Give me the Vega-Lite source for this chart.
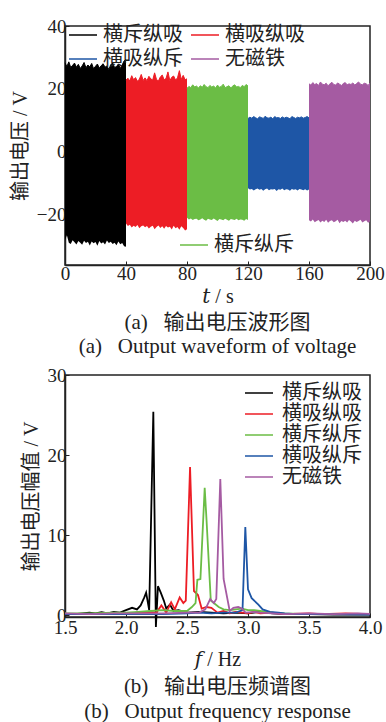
{
  "$schema": "https://vega.github.io/schema/vega-lite/v6.json",
  "padding": {"left": 9, "top": 16, "right": 8, "bottom": 4},
  "background": "white",
  "spacing": 7,
  "resolve": {"scale": {"color": "independent", "fill": "independent", "stroke": "independent"}, "legend": {"color": "independent", "stroke": "independent"}},
  "config": {
    "font": "Liberation Serif, Noto Sans CJK SC",
    "view": {"stroke": "#222", "strokeWidth": 1.5},
    "axis": {
      "grid": false,
      "labelFont": "Liberation Serif",
      "labelFontSize": 19,
      "labelColor": "#222",
      "labelFlush": false,
      "titleFont": "Liberation Serif, DejaVu Serif, Noto Sans CJK SC",
      "titleFontSize": 20,
      "titleFontWeight": "normal",
      "titleColor": "#222",
      "domainColor": "#222",
      "domainWidth": 1.5,
      "tickColor": "#222",
      "tickSize": -4,
      "labelPadding": 3
    },
    "legend": {
      "labelFont": "Noto Sans CJK SC",
      "labelFontSize": 20,
      "labelColor": "#222",
      "symbolType": "M-1.4,0H1.4",
      "symbolSize": 400,
      "symbolStrokeWidth": 1.5,
      "symbolFillColor": "transparent",
      "labelOffset": 9,
      "padding": 0,
      "rowPadding": 0,
      "columnPadding": 5
    },
    "title": {"font": "Liberation Serif, Noto Sans CJK SC", "fontSize": 21, "fontWeight": "normal", "color": "#222"}
  },
  "datasets": {
    "wave": [
      {"t":0,"h":28.3,"l":-28.2,"s":"横斥纵吸"},{"t":1.25,"h":27.1,"l":-26.5,"s":"横斥纵吸"},{"t":2.5,"h":28.6,"l":-28.9,"s":"横斥纵吸"},{"t":3.75,"h":26.8,"l":-29.3,"s":"横斥纵吸"},{"t":5,"h":27.5,"l":-28.1,"s":"横斥纵吸"},{"t":6.25,"h":28.2,"l":-28.8,"s":"横斥纵吸"},{"t":7.5,"h":26.9,"l":-29.5,"s":"横斥纵吸"},{"t":8.75,"h":27.8,"l":-28.4,"s":"横斥纵吸"},{"t":10,"h":26.5,"l":-28.9,"s":"横斥纵吸"},{"t":11.25,"h":27.3,"l":-29.6,"s":"横斥纵吸"},{"t":12.5,"h":28.4,"l":-28.3,"s":"横斥纵吸"},{"t":13.75,"h":26.7,"l":-29.0,"s":"横斥纵吸"},{"t":15,"h":27.6,"l":-28.6,"s":"横斥纵吸"},{"t":16.25,"h":27.0,"l":-29.8,"s":"横斥纵吸"},{"t":17.5,"h":28.1,"l":-28.5,"s":"横斥纵吸"},{"t":18.75,"h":26.4,"l":-29.1,"s":"横斥纵吸"},{"t":20,"h":27.2,"l":-28.7,"s":"横斥纵吸"},{"t":21.25,"h":27.9,"l":-29.9,"s":"横斥纵吸"},{"t":22.5,"h":26.6,"l":-28.4,"s":"横斥纵吸"},{"t":23.75,"h":27.4,"l":-29.2,"s":"横斥纵吸"},{"t":25,"h":28.0,"l":-28.8,"s":"横斥纵吸"},{"t":26.25,"h":26.9,"l":-29.5,"s":"横斥纵吸"},{"t":27.5,"h":27.3,"l":-28.2,"s":"横斥纵吸"},{"t":28.75,"h":26.2,"l":-29.0,"s":"横斥纵吸"},{"t":30,"h":27.7,"l":-28.6,"s":"横斥纵吸"},{"t":31.25,"h":28.3,"l":-29.3,"s":"横斥纵吸"},{"t":32.5,"h":26.8,"l":-28.9,"s":"横斥纵吸"},{"t":33.75,"h":27.1,"l":-29.7,"s":"横斥纵吸"},{"t":35,"h":27.9,"l":-28.5,"s":"横斥纵吸"},{"t":36.25,"h":26.5,"l":-29.4,"s":"横斥纵吸"},{"t":37.5,"h":27.6,"l":-29.0,"s":"横斥纵吸"},{"t":38.75,"h":28.9,"l":-30.0,"s":"横斥纵吸"},{"t":40,"h":29.4,"l":-30.2,"s":"横斥纵吸"},
      {"t":40,"h":22.8,"l":-22.8,"s":"横吸纵吸"},{"t":41.25,"h":23.4,"l":-23.6,"s":"横吸纵吸"},{"t":42.5,"h":22.5,"l":-23.2,"s":"横吸纵吸"},{"t":43.75,"h":24.2,"l":-24.1,"s":"横吸纵吸"},{"t":45,"h":22.9,"l":-23.5,"s":"横吸纵吸"},{"t":46.25,"h":23.6,"l":-23.9,"s":"横吸纵吸"},{"t":47.5,"h":22.4,"l":-23.3,"s":"横吸纵吸"},{"t":48.75,"h":23.1,"l":-24.3,"s":"横吸纵吸"},{"t":50,"h":24.6,"l":-23.7,"s":"横吸纵吸"},{"t":51.25,"h":22.7,"l":-23.4,"s":"横吸纵吸"},{"t":52.5,"h":23.5,"l":-24.0,"s":"横吸纵吸"},{"t":53.75,"h":22.6,"l":-23.6,"s":"横吸纵吸"},{"t":55,"h":24.0,"l":-24.4,"s":"横吸纵吸"},{"t":56.25,"h":23.2,"l":-23.8,"s":"横吸纵吸"},{"t":57.5,"h":22.8,"l":-23.5,"s":"横吸纵吸"},{"t":58.75,"h":25.1,"l":-24.6,"s":"横吸纵吸"},{"t":60,"h":23.0,"l":-23.9,"s":"横吸纵吸"},{"t":61.25,"h":22.5,"l":-23.4,"s":"横吸纵吸"},{"t":62.5,"h":23.8,"l":-24.2,"s":"横吸纵吸"},{"t":63.75,"h":24.4,"l":-23.7,"s":"横吸纵吸"},{"t":65,"h":22.9,"l":-24.5,"s":"横吸纵吸"},{"t":66.25,"h":23.3,"l":-23.6,"s":"横吸纵吸"},{"t":67.5,"h":25.4,"l":-24.1,"s":"横吸纵吸"},{"t":68.75,"h":22.6,"l":-23.8,"s":"横吸纵吸"},{"t":70,"h":23.7,"l":-24.7,"s":"横吸纵吸"},{"t":71.25,"h":24.1,"l":-23.5,"s":"横吸纵吸"},{"t":72.5,"h":22.8,"l":-24.3,"s":"横吸纵吸"},{"t":73.75,"h":23.5,"l":-23.9,"s":"横吸纵吸"},{"t":75,"h":25.8,"l":-24.8,"s":"横吸纵吸"},{"t":76.25,"h":23.0,"l":-23.7,"s":"横吸纵吸"},{"t":77.5,"h":24.3,"l":-24.2,"s":"横吸纵吸"},{"t":78.75,"h":22.9,"l":-25.0,"s":"横吸纵吸"},{"t":80,"h":23.2,"l":-24.6,"s":"横吸纵吸"},
      {"t":80,"h":20.2,"l":-21.0,"s":"横斥纵斥"},{"t":81.25,"h":20.8,"l":-21.5,"s":"横斥纵斥"},{"t":82.5,"h":20.4,"l":-21.2,"s":"横斥纵斥"},{"t":83.75,"h":21.3,"l":-21.7,"s":"横斥纵斥"},{"t":85,"h":20.6,"l":-21.4,"s":"横斥纵斥"},{"t":86.25,"h":20.9,"l":-21.3,"s":"横斥纵斥"},{"t":87.5,"h":20.3,"l":-21.8,"s":"横斥纵斥"},{"t":88.75,"h":21.0,"l":-21.5,"s":"横斥纵斥"},{"t":90,"h":20.5,"l":-21.1,"s":"横斥纵斥"},{"t":91.25,"h":21.4,"l":-21.6,"s":"横斥纵斥"},{"t":92.5,"h":20.7,"l":-21.9,"s":"横斥纵斥"},{"t":93.75,"h":20.4,"l":-21.3,"s":"横斥纵斥"},{"t":95,"h":21.1,"l":-21.5,"s":"横斥纵斥"},{"t":96.25,"h":20.6,"l":-21.7,"s":"横斥纵斥"},{"t":97.5,"h":20.9,"l":-21.2,"s":"横斥纵斥"},{"t":98.75,"h":20.3,"l":-21.6,"s":"横斥纵斥"},{"t":100,"h":21.2,"l":-22.0,"s":"横斥纵斥"},{"t":101.25,"h":20.5,"l":-21.4,"s":"横斥纵斥"},{"t":102.5,"h":20.8,"l":-21.5,"s":"横斥纵斥"},{"t":103.75,"h":21.5,"l":-21.8,"s":"横斥纵斥"},{"t":105,"h":20.4,"l":-21.3,"s":"横斥纵斥"},{"t":106.25,"h":20.7,"l":-21.6,"s":"横斥纵斥"},{"t":107.5,"h":21.0,"l":-21.9,"s":"横斥纵斥"},{"t":108.75,"h":20.3,"l":-21.4,"s":"横斥纵斥"},{"t":110,"h":20.9,"l":-21.5,"s":"横斥纵斥"},{"t":111.25,"h":21.3,"l":-21.7,"s":"横斥纵斥"},{"t":112.5,"h":20.6,"l":-21.3,"s":"横斥纵斥"},{"t":113.75,"h":20.8,"l":-21.8,"s":"横斥纵斥"},{"t":115,"h":20.4,"l":-21.5,"s":"横斥纵斥"},{"t":116.25,"h":21.1,"l":-21.6,"s":"横斥纵斥"},{"t":117.5,"h":20.7,"l":-21.9,"s":"横斥纵斥"},{"t":118.75,"h":21.4,"l":-21.4,"s":"横斥纵斥"},{"t":120,"h":20.9,"l":-21.7,"s":"横斥纵斥"},
      {"t":120,"h":10.6,"l":-11.6,"s":"横吸纵斥"},{"t":121.25,"h":11.0,"l":-12.0,"s":"横吸纵斥"},{"t":122.5,"h":10.7,"l":-11.8,"s":"横吸纵斥"},{"t":123.75,"h":11.2,"l":-12.3,"s":"横吸纵斥"},{"t":125,"h":10.8,"l":-11.9,"s":"横吸纵斥"},{"t":126.25,"h":10.5,"l":-11.7,"s":"横吸纵斥"},{"t":127.5,"h":11.1,"l":-12.1,"s":"横吸纵斥"},{"t":128.75,"h":10.9,"l":-11.8,"s":"横吸纵斥"},{"t":130,"h":10.6,"l":-12.4,"s":"横吸纵斥"},{"t":131.25,"h":11.3,"l":-11.9,"s":"横吸纵斥"},{"t":132.5,"h":10.8,"l":-11.7,"s":"横吸纵斥"},{"t":133.75,"h":10.7,"l":-12.2,"s":"横吸纵斥"},{"t":135,"h":11.0,"l":-11.9,"s":"横吸纵斥"},{"t":136.25,"h":10.5,"l":-12.0,"s":"横吸纵斥"},{"t":137.5,"h":11.2,"l":-11.8,"s":"横吸纵斥"},{"t":138.75,"h":10.8,"l":-12.5,"s":"横吸纵斥"},{"t":140,"h":10.9,"l":-11.9,"s":"横吸纵斥"},{"t":141.25,"h":10.6,"l":-12.1,"s":"横吸纵斥"},{"t":142.5,"h":11.1,"l":-11.7,"s":"横吸纵斥"},{"t":143.75,"h":10.7,"l":-12.2,"s":"横吸纵斥"},{"t":145,"h":11.0,"l":-11.9,"s":"横吸纵斥"},{"t":146.25,"h":10.8,"l":-12.0,"s":"横吸纵斥"},{"t":147.5,"h":10.5,"l":-12.4,"s":"横吸纵斥"},{"t":148.75,"h":11.2,"l":-11.8,"s":"横吸纵斥"},{"t":150,"h":10.9,"l":-12.1,"s":"横吸纵斥"},{"t":151.25,"h":10.6,"l":-11.9,"s":"横吸纵斥"},{"t":152.5,"h":11.0,"l":-12.3,"s":"横吸纵斥"},{"t":153.75,"h":10.8,"l":-11.8,"s":"横吸纵斥"},{"t":155,"h":11.1,"l":-12.0,"s":"横吸纵斥"},{"t":156.25,"h":10.7,"l":-12.2,"s":"横吸纵斥"},{"t":157.5,"h":10.9,"l":-11.9,"s":"横吸纵斥"},{"t":158.75,"h":11.2,"l":-12.3,"s":"横吸纵斥"},{"t":160,"h":10.8,"l":-12.0,"s":"横吸纵斥"},
      {"t":160,"h":21.6,"l":-21.8,"s":"无磁铁"},{"t":161.25,"h":21.2,"l":-22.2,"s":"无磁铁"},{"t":162.5,"h":22.0,"l":-21.5,"s":"无磁铁"},{"t":163.75,"h":21.4,"l":-22.4,"s":"无磁铁"},{"t":165,"h":21.7,"l":-22.0,"s":"无磁铁"},{"t":166.25,"h":21.1,"l":-21.7,"s":"无磁铁"},{"t":167.5,"h":22.2,"l":-22.5,"s":"无磁铁"},{"t":168.75,"h":21.5,"l":-21.9,"s":"无磁铁"},{"t":170,"h":21.3,"l":-22.3,"s":"无磁铁"},{"t":171.25,"h":21.8,"l":-21.6,"s":"无磁铁"},{"t":172.5,"h":21.0,"l":-22.6,"s":"无磁铁"},{"t":173.75,"h":21.6,"l":-22.0,"s":"无磁铁"},{"t":175,"h":22.1,"l":-21.8,"s":"无磁铁"},{"t":176.25,"h":21.4,"l":-22.4,"s":"无磁铁"},{"t":177.5,"h":21.2,"l":-22.1,"s":"无磁铁"},{"t":178.75,"h":21.9,"l":-21.6,"s":"无磁铁"},{"t":180,"h":21.5,"l":-22.7,"s":"无磁铁"},{"t":181.25,"h":21.1,"l":-22.0,"s":"无磁铁"},{"t":182.5,"h":21.7,"l":-22.3,"s":"无磁铁"},{"t":183.75,"h":22.0,"l":-21.9,"s":"无磁铁"},{"t":185,"h":21.3,"l":-22.5,"s":"无磁铁"},{"t":186.25,"h":21.6,"l":-21.7,"s":"无磁铁"},{"t":187.5,"h":21.4,"l":-22.2,"s":"无磁铁"},{"t":188.75,"h":21.9,"l":-22.8,"s":"无磁铁"},{"t":190,"h":21.2,"l":-21.9,"s":"无磁铁"},{"t":191.25,"h":21.7,"l":-22.3,"s":"无磁铁"},{"t":192.5,"h":22.2,"l":-22.0,"s":"无磁铁"},{"t":193.75,"h":21.5,"l":-21.6,"s":"无磁铁"},{"t":195,"h":21.3,"l":-22.5,"s":"无磁铁"},{"t":196.25,"h":21.8,"l":-22.1,"s":"无磁铁"},{"t":197.5,"h":21.6,"l":-21.8,"s":"无磁铁"},{"t":198.75,"h":21.1,"l":-22.6,"s":"无磁铁"},{"t":200,"h":21.9,"l":-22.2,"s":"无磁铁"}
    ],
    "spec": [
      {"f":1.5,"v":0.1,"s":"横斥纵吸"},{"f":1.6,"v":0.15,"s":"横斥纵吸"},{"f":1.7,"v":0.3,"s":"横斥纵吸"},{"f":1.75,"v":0.2,"s":"横斥纵吸"},{"f":1.8,"v":0.35,"s":"横斥纵吸"},{"f":1.85,"v":0.2,"s":"横斥纵吸"},{"f":1.9,"v":0.4,"s":"横斥纵吸"},{"f":1.95,"v":0.3,"s":"横斥纵吸"},{"f":2.0,"v":0.6,"s":"横斥纵吸"},{"f":2.05,"v":0.9,"s":"横斥纵吸"},{"f":2.09,"v":0.7,"s":"横斥纵吸"},{"f":2.12,"v":1.2,"s":"横斥纵吸"},{"f":2.15,"v":2.2,"s":"横斥纵吸"},{"f":2.165,"v":2.8,"s":"横斥纵吸"},{"f":2.19,"v":0.6,"s":"横斥纵吸"},{"f":2.224,"v":25.4,"s":"横斥纵吸"},{"f":2.245,"v":-1.5,"s":"横斥纵吸"},{"f":2.262,"v":3.6,"s":"横斥纵吸"},{"f":2.285,"v":2.8,"s":"横斥纵吸"},{"f":2.31,"v":1.8,"s":"横斥纵吸"},{"f":2.33,"v":0.8,"s":"横斥纵吸"},{"f":2.36,"v":1.3,"s":"横斥纵吸"},{"f":2.39,"v":0.5,"s":"横斥纵吸"},{"f":2.43,"v":0.6,"s":"横斥纵吸"},{"f":2.5,"v":0.3,"s":"横斥纵吸"},{"f":2.6,"v":0.4,"s":"横斥纵吸"},{"f":2.7,"v":0.3,"s":"横斥纵吸"},{"f":2.8,"v":0.2,"s":"横斥纵吸"},{"f":2.9,"v":0.3,"s":"横斥纵吸"},{"f":3.0,"v":0.2,"s":"横斥纵吸"},{"f":3.1,"v":0.4,"s":"横斥纵吸"},{"f":3.2,"v":0.2,"s":"横斥纵吸"},{"f":3.3,"v":0.1,"s":"横斥纵吸"},{"f":3.4,"v":0.15,"s":"横斥纵吸"},{"f":3.5,"v":0.1,"s":"横斥纵吸"},{"f":3.7,"v":0.05,"s":"横斥纵吸"},{"f":4.0,"v":0.05,"s":"横斥纵吸"},
      {"f":1.5,"v":0.1,"s":"横吸纵吸"},{"f":1.7,"v":0.1,"s":"横吸纵吸"},{"f":1.9,"v":0.15,"s":"横吸纵吸"},{"f":2.0,"v":0.2,"s":"横吸纵吸"},{"f":2.1,"v":0.3,"s":"横吸纵吸"},{"f":2.2,"v":0.4,"s":"横吸纵吸"},{"f":2.25,"v":0.3,"s":"横吸纵吸"},{"f":2.29,"v":1.2,"s":"横吸纵吸"},{"f":2.33,"v":0.3,"s":"横吸纵吸"},{"f":2.37,"v":1.6,"s":"横吸纵吸"},{"f":2.4,"v":0.7,"s":"横吸纵吸"},{"f":2.44,"v":2.2,"s":"横吸纵吸"},{"f":2.47,"v":1.5,"s":"横吸纵吸"},{"f":2.49,"v":1.8,"s":"横吸纵吸"},{"f":2.525,"v":18.5,"s":"横吸纵吸"},{"f":2.557,"v":3.0,"s":"横吸纵吸"},{"f":2.59,"v":2.5,"s":"横吸纵吸"},{"f":2.62,"v":0.8,"s":"横吸纵吸"},{"f":2.66,"v":1.0,"s":"横吸纵吸"},{"f":2.7,"v":0.9,"s":"横吸纵吸"},{"f":2.75,"v":0.3,"s":"横吸纵吸"},{"f":2.8,"v":0.5,"s":"横吸纵吸"},{"f":2.85,"v":0.2,"s":"横吸纵吸"},{"f":2.9,"v":0.4,"s":"横吸纵吸"},{"f":2.95,"v":0.3,"s":"横吸纵吸"},{"f":3.0,"v":0.2,"s":"横吸纵吸"},{"f":3.05,"v":0.4,"s":"横吸纵吸"},{"f":3.1,"v":0.2,"s":"横吸纵吸"},{"f":3.2,"v":0.3,"s":"横吸纵吸"},{"f":3.3,"v":0.1,"s":"横吸纵吸"},{"f":3.5,"v":0.2,"s":"横吸纵吸"},{"f":3.6,"v":0.1,"s":"横吸纵吸"},{"f":3.8,"v":0.2,"s":"横吸纵吸"},{"f":4.0,"v":0.1,"s":"横吸纵吸"},
      {"f":1.5,"v":0.2,"s":"横斥纵斥"},{"f":1.7,"v":0.2,"s":"横斥纵斥"},{"f":1.9,"v":0.3,"s":"横斥纵斥"},{"f":2.0,"v":0.3,"s":"横斥纵斥"},{"f":2.1,"v":0.4,"s":"横斥纵斥"},{"f":2.2,"v":0.5,"s":"横斥纵斥"},{"f":2.3,"v":0.6,"s":"横斥纵斥"},{"f":2.4,"v":0.5,"s":"横斥纵斥"},{"f":2.5,"v":0.5,"s":"横斥纵斥"},{"f":2.54,"v":1.0,"s":"横斥纵斥"},{"f":2.57,"v":1.5,"s":"横斥纵斥"},{"f":2.585,"v":4.4,"s":"横斥纵斥"},{"f":2.61,"v":4.5,"s":"横斥纵斥"},{"f":2.645,"v":15.9,"s":"横斥纵斥"},{"f":2.66,"v":11.9,"s":"横斥纵斥"},{"f":2.695,"v":1.8,"s":"横斥纵斥"},{"f":2.72,"v":1.5,"s":"横斥纵斥"},{"f":2.76,"v":1.0,"s":"横斥纵斥"},{"f":2.8,"v":0.7,"s":"横斥纵斥"},{"f":2.85,"v":0.6,"s":"横斥纵斥"},{"f":2.9,"v":0.7,"s":"横斥纵斥"},{"f":2.95,"v":0.8,"s":"横斥纵斥"},{"f":3.0,"v":0.6,"s":"横斥纵斥"},{"f":3.05,"v":0.6,"s":"横斥纵斥"},{"f":3.1,"v":0.5,"s":"横斥纵斥"},{"f":3.2,"v":0.3,"s":"横斥纵斥"},{"f":3.3,"v":0.2,"s":"横斥纵斥"},{"f":3.5,"v":0.1,"s":"横斥纵斥"},{"f":3.7,"v":0.1,"s":"横斥纵斥"},{"f":4.0,"v":0.1,"s":"横斥纵斥"},
      {"f":1.5,"v":0.1,"s":"横吸纵斥"},{"f":1.7,"v":0.1,"s":"横吸纵斥"},{"f":2.0,"v":0.1,"s":"横吸纵斥"},{"f":2.3,"v":0.1,"s":"横吸纵斥"},{"f":2.5,"v":0.2,"s":"横吸纵斥"},{"f":2.6,"v":0.3,"s":"横吸纵斥"},{"f":2.7,"v":0.2,"s":"横吸纵斥"},{"f":2.8,"v":0.3,"s":"横吸纵斥"},{"f":2.9,"v":0.3,"s":"横吸纵斥"},{"f":2.955,"v":0.6,"s":"横吸纵斥"},{"f":2.978,"v":11.0,"s":"横吸纵斥"},{"f":3.0,"v":3.2,"s":"横吸纵斥"},{"f":3.03,"v":2.1,"s":"横吸纵斥"},{"f":3.085,"v":1.3,"s":"横吸纵斥"},{"f":3.12,"v":0.7,"s":"横吸纵斥"},{"f":3.18,"v":0.4,"s":"横吸纵斥"},{"f":3.25,"v":0.3,"s":"横吸纵斥"},{"f":3.3,"v":0.2,"s":"横吸纵斥"},{"f":3.4,"v":0.1,"s":"横吸纵斥"},{"f":3.6,"v":0.1,"s":"横吸纵斥"},{"f":4.0,"v":0.05,"s":"横吸纵斥"},
      {"f":1.5,"v":0.2,"s":"无磁铁"},{"f":1.7,"v":0.1,"s":"无磁铁"},{"f":1.9,"v":0.2,"s":"无磁铁"},{"f":2.1,"v":0.2,"s":"无磁铁"},{"f":2.3,"v":0.2,"s":"无磁铁"},{"f":2.5,"v":0.3,"s":"无磁铁"},{"f":2.6,"v":0.3,"s":"无磁铁"},{"f":2.65,"v":0.7,"s":"无磁铁"},{"f":2.69,"v":2.0,"s":"无磁铁"},{"f":2.72,"v":1.5,"s":"无磁铁"},{"f":2.74,"v":2.0,"s":"无磁铁"},{"f":2.773,"v":17.0,"s":"无磁铁"},{"f":2.8,"v":4.5,"s":"无磁铁"},{"f":2.85,"v":0.5,"s":"无磁铁"},{"f":2.88,"v":0.9,"s":"无磁铁"},{"f":2.92,"v":1.0,"s":"无磁铁"},{"f":2.95,"v":0.8,"s":"无磁铁"},{"f":2.98,"v":0.3,"s":"无磁铁"},{"f":3.05,"v":0.4,"s":"无磁铁"},{"f":3.1,"v":0.3,"s":"无磁铁"},{"f":3.2,"v":0.2,"s":"无磁铁"},{"f":3.3,"v":0.1,"s":"无磁铁"},{"f":3.5,"v":0.2,"s":"无磁铁"},{"f":3.7,"v":0.1,"s":"无磁铁"},{"f":3.9,"v":0.2,"s":"无磁铁"},{"f":4.0,"v":0.15,"s":"无磁铁"}
    ]
  },
  "vconcat": [
    {
      "width": 305,
      "height": 239,
      "title": {"text": ["(a)\u2002 输出电压波形图", "(a)\u2002 Output waveform of voltage"], "orient": "bottom", "anchor": "middle", "frame": "group", "lineHeight": 24, "offset": 6},
      "data": {"name": "wave"},
      "layer": [
        {
          "mark": {"type": "area", "interpolate": "linear"},
          "encoding": {
            "x": {"field": "t", "type": "quantitative", "scale": {"domain": [0, 200], "nice": false}, "axis": {"values": [0, 40, 80, 120, 160, 200], "title": "𝑡 / s", "titlePadding": 3}},
            "y": {"field": "h", "type": "quantitative", "scale": {"domain": [-36, 40], "nice": false}, "axis": {"values": [-20, 0, 20, 40], "title": "输出电压 / V", "titlePadding": 6}},
            "y2": {"field": "l"},
            "fill": {"field": "s", "type": "nominal", "scale": {"domain": ["横斥纵吸", "横吸纵吸", "横斥纵斥", "横吸纵斥", "无磁铁"], "range": ["#000000", "#ED1D25", "#6BBD45", "#1E56A6", "#A55BA2"]}, "legend": null}
          }
        },
        {
          "transform": [{"filter": "datum.s !== '横斥纵斥'"}],
          "mark": {"type": "line", "strokeWidth": 1},
          "encoding": {
            "x": {"field": "t", "type": "quantitative"},
            "y": {"field": "h", "type": "quantitative"},
            "stroke": {"field": "s", "type": "nominal", "scale": {"domain": ["横斥纵吸", "横吸纵吸", "横吸纵斥", "无磁铁"], "range": ["#000000", "#ED1D25", "#1E56A6", "#A55BA2"]}, "legend": {"title": null, "orient": "none", "legendX": 7, "legendY": -2, "columns": 2, "direction": "horizontal", "rowPadding": 3}}
          }
        },
        {
          "transform": [{"filter": "datum.s === '横斥纵斥'"}],
          "mark": {"type": "line", "strokeWidth": 1},
          "encoding": {
            "x": {"field": "t", "type": "quantitative"},
            "y": {"field": "h", "type": "quantitative"},
            "color": {"field": "s", "type": "nominal", "scale": {"domain": ["横斥纵斥"], "range": ["#6BBD45"]}, "legend": {"title": null, "orient": "none", "legendX": 118, "legendY": 208}}
          }
        }
      ]
    },
    {
      "width": 305,
      "height": 242,
      "title": {"text": ["(b)\u2002 输出电压频谱图", "(b)\u2002 Output frequency response"], "orient": "bottom", "anchor": "middle", "frame": "group", "lineHeight": 25, "offset": 7},
      "data": {"name": "spec"},
      "mark": {"type": "line", "strokeWidth": 1.8},
      "encoding": {
        "x": {"field": "f", "type": "quantitative", "scale": {"domain": [1.5, 4.0], "nice": false}, "axis": {"values": [1.5, 2.0, 2.5, 3.0, 3.5, 4.0], "format": ".1f", "title": "𝑓 / Hz", "titlePadding": 12, "labelPadding": 5}},
        "y": {"field": "v", "type": "quantitative", "scale": {"domain": [-0.25, 30], "nice": false}, "axis": {"values": [0, 10, 20, 30], "title": "输出电压幅值 / V", "titlePadding": 6}},
        "color": {"field": "s", "type": "nominal", "scale": {"domain": ["横斥纵吸", "横吸纵吸", "横斥纵斥", "横吸纵斥", "无磁铁"], "range": ["#000000", "#ED1D25", "#6BBD45", "#1E56A6", "#A55BA2"]}, "legend": {"title": null, "orient": "none", "legendX": 183, "legendY": 7, "labelOffset": 12}}
      }
    }
  ]
}
